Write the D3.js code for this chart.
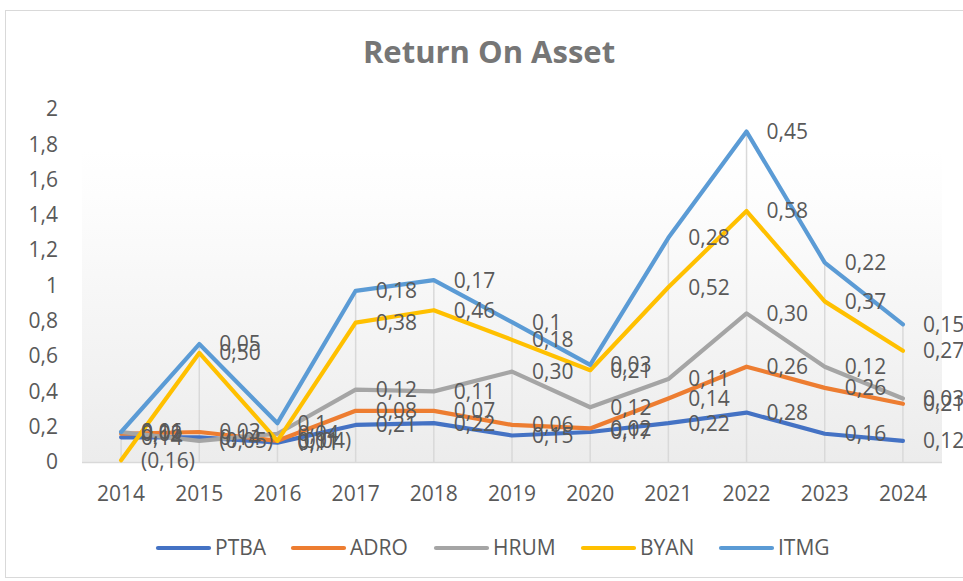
<!DOCTYPE html>
<html><head><meta charset="utf-8">
<script src="https://cdn.jsdelivr.net/npm/d3@7"></script>
<style>body{margin:0;background:#fff}svg{display:block}text{font-family:"Open Sans",sans-serif}</style>
</head><body><svg id="c" width="963" height="581"></svg>
<script>
const years = ["2014","2015","2016","2017","2018","2019","2020","2021","2022","2023","2024"];
const PTBA = [0.14, 0.14, 0.11, 0.21, 0.22, 0.15, 0.17, 0.22, 0.28, 0.16, 0.12];
const ADRO = [0.02, 0.03, 0.01, 0.08, 0.07, 0.06, 0.02, 0.14, 0.26, 0.26, 0.21];
const HRUM = [0.01, -0.05, 0.04, 0.12, 0.11, 0.302, 0.12, 0.11, 0.302, 0.12, 0.03];
const BYAN = [-0.16, 0.498, -0.04, 0.38, 0.46, 0.18, 0.21, 0.52, 0.58, 0.37, 0.27];
const ITMG = [0.16, 0.05, 0.1, 0.18, 0.17, 0.1, 0.03, 0.28, 0.45, 0.22, 0.15];
const seriesNames = ["PTBA","ADRO","HRUM","BYAN","ITMG"];
const seriesValues = [PTBA, ADRO, HRUM, BYAN, ITMG];
const colors = ["#4472C4","#ED7D31","#A5A5A5","#FFC000","#5B9BD5"];
const yTicks = [0,0.2,0.4,0.6,0.8,1,1.2,1.4,1.6,1.8,2];
const title = "Return On Asset";

const rows = years.map((yr,i)=>{const r={year:yr}; seriesNames.forEach((n,k)=>r[n]=seriesValues[k][i]); return r;});
const stacked = d3.stack().keys(seriesNames).order(d3.stackOrderNone).offset(d3.stackOffsetNone)(rows);

const svg = d3.select("#c");
const L=82,R=942,T=109,B=462;
const x = d3.scaleBand().domain(years).range([L,R]);
const cx = d => x(d)+x.bandwidth()/2;
const y = d3.scaleLinear().domain([0,2]).range([B,T]);
const txt="#595959";

// chart border
svg.append("rect").attr("x",5.5).attr("y",10.5).attr("width",980).attr("height",567).attr("fill","#fff").attr("stroke","#d9d9d9").attr("stroke-width",1);

// plot gradient
const defs=svg.append("defs");
const g=defs.append("linearGradient").attr("id","pg").attr("x1",0).attr("y1",0).attr("x2",0).attr("y2",1);
g.append("stop").attr("offset","0%").attr("stop-color","#ffffff");
g.append("stop").attr("offset","15%").attr("stop-color","#fdfdfd");
g.append("stop").attr("offset","100%").attr("stop-color","#ececec");
svg.append("rect").attr("x",L).attr("y",T+40).attr("width",R-L).attr("height",B-T-40).attr("fill","url(#pg)");

// title
svg.append("text").attr("x",489).attr("y",55).attr("text-anchor","middle").attr("dominant-baseline","middle")
  .attr("font-size",31).attr("font-weight","bold").attr("fill","#767676").text(title);

const fmt = v => { const a=Math.abs(v); const s=(Math.abs(a*10-Math.round(a*10))<1e-9? d3.format(".1f")(a): d3.format(".2f")(a)).replace(".",","); return v<0?"("+s+")":s; };

// drop lines
const tops = years.map((yr,i)=>d3.max(stacked,s=>s[i][1]));
svg.append("g").selectAll("line").data(years).join("line")
  .attr("x1",d=>cx(d)).attr("x2",d=>cx(d)).attr("y1",(d,i)=>y(tops[i])).attr("y2",B)
  .attr("stroke","#d9d9d9").attr("stroke-width",1.5);

// x axis line
svg.append("line").attr("x1",L).attr("x2",R).attr("y1",B+0.5).attr("y2",B+0.5).attr("stroke","#d9d9d9").attr("stroke-width",1.5);

// y axis
const ya = svg.append("g").attr("transform",`translate(${L},0)`)
  .call(d3.axisLeft(y).tickValues(yTicks).tickSize(0).tickPadding(24).tickFormat(d=>String(d).replace(".",",")));
ya.select(".domain").remove();
ya.selectAll("text").attr("font-size",21).attr("fill",txt).attr("font-family","Open Sans");

// x axis
const xa = svg.append("g").attr("transform",`translate(0,${B})`).call(d3.axisBottom(x).tickSize(0));
xa.select(".domain").remove();
xa.selectAll("text").attr("font-size",21).attr("fill",txt).attr("font-family","Open Sans").attr("y",32).attr("dy","0.35em");

// lines
const line = d3.line().x(d=>cx(d.data.year)).y(d=>y(d[1]));
svg.append("g").selectAll("path").data(stacked).join("path")
  .attr("d",line).attr("fill","none").attr("stroke",(d,i)=>colors[i]).attr("stroke-width",4.2)
  .attr("stroke-linejoin","round").attr("stroke-linecap","round");

// labels
stacked.forEach((s,k)=>{
  svg.append("g").selectAll("text").data(s).join("text")
    .attr("x",d=>cx(d.data.year)+20).attr("y",d=>y(d[1])).attr("dy","0.35em")
    .attr("font-size",21).attr("fill",txt).text((d,i)=>fmt(seriesValues[k][i]));
});

// legend
const lx=[156,291,434,581,719];
const lg=svg.append("g");
seriesNames.forEach((n,i)=>{
  lg.append("line").attr("x1",lx[i]+2).attr("x2",lx[i]+53).attr("y1",548).attr("y2",548)
    .attr("stroke",colors[i]).attr("stroke-width",4.2).attr("stroke-linecap","round");
  lg.append("text").attr("x",lx[i]+59).attr("y",548).attr("dy","0.35em").attr("font-size",21).attr("fill",txt).text(n);
});
</script></body></html>
